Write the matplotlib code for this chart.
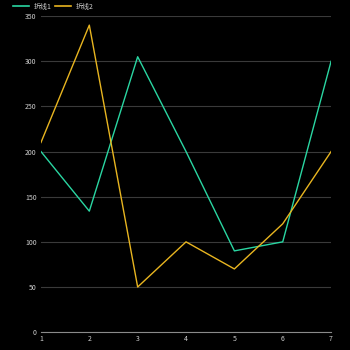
import matplotlib

matplotlib.use("Agg")
from matplotlib import pyplot as plt
from matplotlib.lines import Line2D

plt.rcParams["font.family"] = ["Noto Sans CJK SC", "DejaVu Sans"]

x_labels = ["1", "2", "3", "4", "5", "6", "7"]
line1 = [200, 134, 305, 200, 90, 100, 300]
line2 = [210, 340, 50, 100, 70, 120, 200]
series_names = ["折线1", "折线2"]
colors = ["#2ad6a2", "#e8b520"]

fig = plt.figure(figsize=(3.5, 3.5), dpi=100, facecolor="#000000")
ax = fig.add_axes([0.117, 0.051, 0.829, 0.903], facecolor="#000000")

xs = list(range(1, len(x_labels) + 1))
ax.plot(xs, line1, color=colors[0], linewidth=1.0)
ax.plot(xs, line2, color=colors[1], linewidth=1.0)

ax.set_xlim(1, 7)
ax.set_ylim(0, 350)
ax.set_xticks(xs)
ax.set_xticklabels(x_labels)
ax.set_yticks(range(0, 351, 50))
ax.grid(axis="y", color="#3a3a3a", linewidth=0.8)
ax.set_axisbelow(True)
for side in ("top", "right", "left"):
    ax.spines[side].set_visible(False)
ax.spines["bottom"].set_color("#8a8a8a")
ax.spines["bottom"].set_linewidth(0.8)
ax.tick_params(colors="#d0d0d0", labelsize=5, length=0, pad=3)
ax.tick_params(axis="x", pad=2)

handles = [Line2D([], [], color=c, linewidth=1.2) for c in colors]
fig.legend(handles, series_names, loc="upper left", bbox_to_anchor=(0.02, 1.01),
           ncol=2, frameon=False, fontsize=5, labelcolor="#d0d0d0",
           handlelength=2.3, handletextpad=0.6, columnspacing=0.6)

fig.savefig("out.png", dpi=100, facecolor=fig.get_facecolor())
